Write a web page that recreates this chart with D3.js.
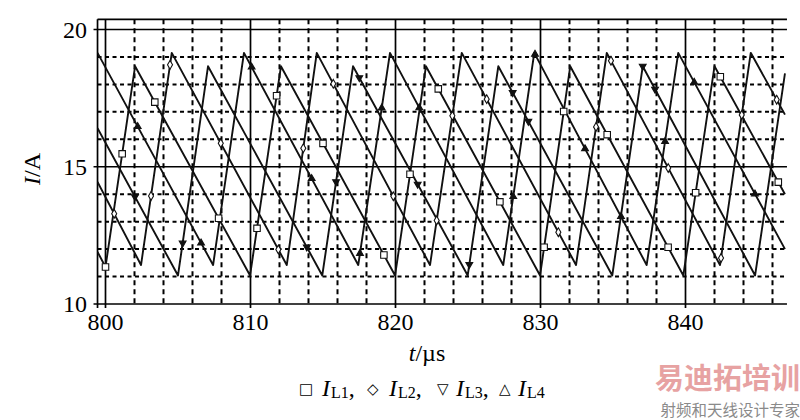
<!DOCTYPE html>
<html><head><meta charset="utf-8">
<script src="https://cdn.jsdelivr.net/npm/d3@7/dist/d3.min.js"></script>
<style>body{margin:0;background:#fff}svg{display:block}</style>
</head><body>
<svg id="c" width="800" height="420"></svg>
<script>
// ---- data ----
const xTickLabels = [800, 810, 820, 830, 840];
const yTickLabels = [10, 15, 20];
const seriesNames = ["L1", "L2", "L3", "L4"];

// vertex times (µs) and currents (A) of each inductor current
const L1_t = [799.45, 800.0, 802.04, 809.97, 812.1, 819.97, 822.1, 829.97, 832.05, 839.85, 842.0, 846.86];
const L1_v = [11.9, 11.35, 18.66, 11.04, 18.66, 11.04, 18.66, 11.04, 18.66, 11.04, 18.66, 14.0];
const L2_t = [799.45, 802.45, 804.57, 812.5, 814.57, 822.38, 824.57, 832.45, 834.57, 842.38, 844.5, 846.86];
const L2_v = [14.45, 11.42, 19.15, 11.42, 19.15, 11.42, 19.15, 11.42, 19.15, 11.42, 19.15, 16.9];
const L3_t = [799.45, 805.0, 807.07, 814.95, 817.07, 824.98, 827.09, 834.95, 837.05, 844.8, 846.86];
const L3_v = [16.4, 11.04, 18.66, 11.04, 18.66, 11.04, 18.66, 11.04, 18.66, 11.04, 18.4];
const L4_t = [799.45, 807.42, 809.55, 817.43, 819.62, 827.43, 829.57, 837.32, 839.5, 846.86];
const L4_v = [19.15, 11.42, 19.15, 11.42, 19.15, 11.42, 19.15, 11.42, 19.15, 12.0];

// marker times along each curve
const L1_m = [800.0, 801.15, 803.4, 807.8, 810.45, 811.8, 815.0, 819.2, 821.0, 822.95, 827.2, 830.25, 831.6, 834.6, 838.8, 840.7, 842.4, 846.4];
const L2_m = [800.6, 803.14, 804.45, 807.95, 811.92, 813.64, 815.71, 819.85, 822.84, 823.92, 826.29, 831.23, 833.83, 834.86, 838.81, 842.45, 843.88, 846.29];
const L3_m = [802.03, 805.32, 813.88, 815.9, 817.5, 821.53, 825.09, 828.08, 829.16, 837.05, 837.9];
const L4_m = [802.22, 806.59, 810.08, 814.22, 817.55, 819.05, 821.64, 828.12, 829.62, 833.07, 835.55, 838.59, 840.6, 844.79];

// ---- drawing ----
const svg = d3.select("#c");
const x = d3.scaleLinear().domain([800, 840]).range([105.5, 685.5]);
const y = d3.scaleLinear().domain([10, 20]).range([304, 29.5]);
const X0 = x(799.45), X1 = x(846.86), YT = 19.3, YB = y(10);
const serif = "'Liberation Serif','Times New Roman',serif";

const g = svg.append("g");

// dashed horizontal grid
g.selectAll(".hd").data(d3.range(11, 20).filter(v => v !== 15)).join("line")
  .attr("x1", X0).attr("x2", X1 + 2).attr("y1", d => y(d)).attr("y2", d => y(d))
  .attr("stroke", "#000").attr("stroke-width", 2).attr("stroke-dasharray", "4,3.5");
// dashed vertical grid
g.selectAll(".vd").data(d3.range(802, 847, 2).filter(v => v % 10 !== 0)).join("line")
  .attr("x1", d => x(d)).attr("x2", d => x(d)).attr("y1", YT).attr("y2", YB)
  .attr("stroke", "#000").attr("stroke-width", 2).attr("stroke-dasharray", "5,4");
// solid horizontals at labelled ticks
g.selectAll(".hs").data(yTickLabels).join("line")
  .attr("x1", X0 - 4).attr("x2", X1 + 2).attr("y1", d => y(d)).attr("y2", d => y(d))
  .attr("stroke", "#000").attr("stroke-width", 1.7);
// top frame
g.append("line").attr("x1", X0).attr("x2", X1 + 2).attr("y1", YT).attr("y2", YT)
  .attr("stroke", "#000").attr("stroke-width", 1.7);
// solid verticals at labelled ticks
g.selectAll(".vs").data(xTickLabels).join("line")
  .attr("x1", d => x(d)).attr("x2", d => x(d)).attr("y1", YT).attr("y2", YB + 4)
  .attr("stroke", "#000").attr("stroke-width", 1.7);
// left frame
g.append("line").attr("x1", X0).attr("x2", X0).attr("y1", YT).attr("y2", YB + 4)
  .attr("stroke", "#000").attr("stroke-width", 1.7);

// curves
const series = [
  {t: L1_t, v: L1_v, m: L1_m, sym: "square"},
  {t: L2_t, v: L2_v, m: L2_m, sym: "diamond"},
  {t: L3_t, v: L3_v, m: L3_m, sym: "down"},
  {t: L4_t, v: L4_v, m: L4_m, sym: "up"}
];
svg.append("clipPath").attr("id", "clip").append("rect")
  .attr("x", X0).attr("y", YT).attr("width", X1 - X0 + 1).attr("height", YB - YT);
const line = d3.line().x(d => x(d[0])).y(d => y(d[1]));
const cg = svg.append("g").attr("clip-path", "url(#clip)");
series.forEach(s => {
  cg.append("path").datum(d3.zip(s.t, s.v)).attr("d", line)
    .attr("fill", "none").attr("stroke", "#111").attr("stroke-width", 1.9)
    .attr("stroke-linejoin", "round");
});
// markers
const symPath = {
  square: d3.symbol(d3.symbolSquare, 42)(),
  diamond: d3.symbol(d3.symbolDiamond, 22)(),
  up: d3.symbol(d3.symbolTriangle, 20)(),
  down: d3.symbol(d3.symbolTriangle, 20)()
};
series.forEach(s => {
  const interp = d3.scaleLinear().domain(s.t).range(s.v);
  cg.selectAll(null).data(s.m).join("path")
    .attr("d", symPath[s.sym])
    .attr("transform", d => `translate(${x(d)},${y(interp(d))})` + (s.sym === "down" ? " rotate(180)" : ""))
    .attr("fill", (s.sym === "square" || s.sym === "diamond") ? "#fff" : "#111")
    .attr("stroke", "#111").attr("stroke-width", 1.1);
});

// tick labels
svg.selectAll(".xl").data(xTickLabels).join("text")
  .attr("x", d => x(d)).attr("y", 330).attr("text-anchor", "middle")
  .attr("font-family", serif).attr("font-size", 24).text(d => d);
svg.selectAll(".yl").data(yTickLabels).join("text")
  .attr("x", 87).attr("y", d => y(d) + 8).attr("text-anchor", "end")
  .attr("font-family", serif).attr("font-size", 24).text(d => d);

// axis titles
const yt = svg.append("text").attr("transform", "translate(40,169) rotate(-90)")
  .attr("text-anchor", "middle").attr("font-family", serif).attr("font-size", 24);
yt.append("tspan").attr("font-style", "italic").text("I");
yt.append("tspan").text("/A");
const xt = svg.append("text").attr("x", 427).attr("y", 361)
  .attr("text-anchor", "middle").attr("font-family", serif).attr("font-size", 24);
xt.append("tspan").attr("font-style", "italic").text("t");
xt.append("tspan").text("/\u00b5s");

// legend (explicit piece positions)
const legSyms = ["\u25a1", "\u25c7", "\u25bd", "\u25b3"];
const legSymX = [299, 367, 437, 499];
const legIX = [322, 389, 456, 518];
const lg = svg.append("g");
seriesNames.forEach((n, i) => {
  lg.append("text").attr("x", legSymX[i]).attr("y", 394)
    .attr("font-family", "'DejaVu Sans',sans-serif").attr("font-size", 15).text(legSyms[i]);
  const t = lg.append("text").attr("x", legIX[i]).attr("y", 396)
    .attr("font-family", serif).attr("font-size", 24);
  t.append("tspan").attr("font-style", "italic").text("I");
  t.append("tspan").attr("font-size", 16).attr("dx", 1).attr("dy", 2).text(n);
  if (i < 3) t.append("tspan").attr("dy", -2).text(",");
});

// watermark
svg.append("text").attr("x", 800).attr("y", 389).attr("text-anchor", "end")
  .attr("font-family", "'Noto Sans CJK SC',sans-serif").attr("font-weight", "bold")
  .attr("font-size", 29).attr("fill", "#e7a2a2").text("易迪拓培训");
svg.append("text").attr("x", 800).attr("y", 416).attr("text-anchor", "end")
  .attr("font-family", "'Noto Sans CJK SC',sans-serif")
  .attr("font-size", 15.5).attr("fill", "#8a8a8a").text("射频和天线设计专家");
</script>
</body></html>
